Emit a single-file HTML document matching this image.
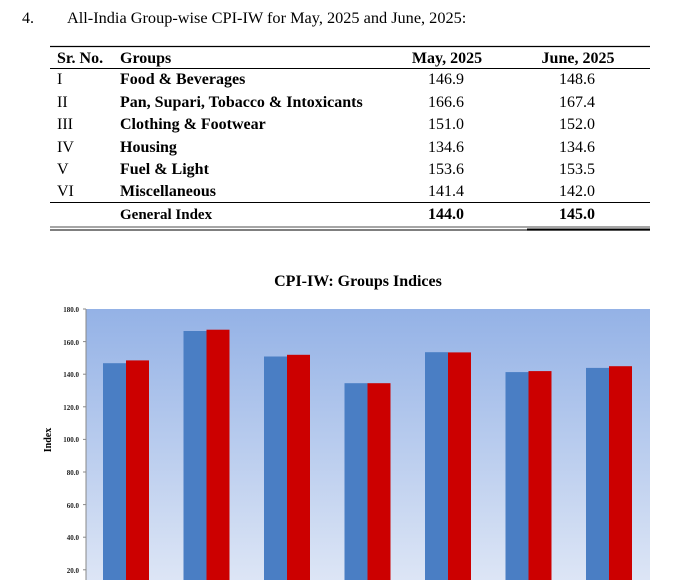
<!DOCTYPE html>
<html><head><style>
body{margin:0;width:687px;height:580px;background:#fff;overflow:hidden;font-family:"Liberation Serif",serif;}
svg{position:absolute;left:0;top:0}
</style></head><body>
<svg width="687" height="580" xmlns="http://www.w3.org/2000/svg" font-family="Liberation Serif, serif">
<defs><linearGradient id="g" x1="0" y1="0" x2="0" y2="1">
<stop offset="0" stop-color="#94b2e6"/><stop offset="1" stop-color="#dfe7f6"/></linearGradient></defs>
<text x="22" y="23" font-size="16">4.</text>
<text x="67" y="23" font-size="16.3">All-India Group-wise CPI-IW for May, 2025 and June, 2025:</text>
<line x1="50" y1="46.5" x2="650" y2="46.5" stroke="#000" stroke-width="1.2"/>
<line x1="50" y1="68.5" x2="650" y2="68.5" stroke="#000" stroke-width="1"/>
<line x1="50" y1="202.5" x2="650" y2="202.5" stroke="#000" stroke-width="1"/>
<line x1="50" y1="227" x2="650" y2="227" stroke="#888" stroke-width="1.5"/>
<line x1="50" y1="230" x2="650" y2="230" stroke="#555" stroke-width="1.5"/>
<line x1="527" y1="229.5" x2="650" y2="229.5" stroke="#000" stroke-width="2"/>
<g font-size="16">
<text x="57" y="63" font-weight="bold">Sr. No.</text>
<text x="120" y="63" font-weight="bold">Groups</text>
<text x="447" y="63" font-weight="bold" text-anchor="middle">May, 2025</text>
<text x="578" y="63" font-weight="bold" text-anchor="middle">June, 2025</text>
<g>
<text x="57" y="84">I</text><text x="57" y="107">II</text><text x="57" y="129">III</text><text x="57" y="152">IV</text><text x="57" y="174">V</text><text x="57" y="196">VI</text>
</g>
<g font-weight="bold">
<text x="120" y="84">Food &amp; Beverages</text>
<text x="120" y="107">Pan, Supari, Tobacco &amp; Intoxicants</text>
<text x="120" y="129">Clothing &amp; Footwear</text>
<text x="120" y="152">Housing</text>
<text x="120" y="174">Fuel &amp; Light</text>
<text x="120" y="196">Miscellaneous</text>
<text x="120" y="219" font-size="15">General Index</text>
</g>
<g text-anchor="middle">
<text x="446" y="84">146.9</text><text x="577" y="84">148.6</text>
<text x="446" y="107">166.6</text><text x="577" y="107">167.4</text>
<text x="446" y="129">151.0</text><text x="577" y="129">152.0</text>
<text x="446" y="152">134.6</text><text x="577" y="152">134.6</text>
<text x="446" y="174">153.6</text><text x="577" y="174">153.5</text>
<text x="446" y="196">141.4</text><text x="577" y="196">142.0</text>
<text x="446" y="219" font-weight="bold">144.0</text><text x="577" y="219" font-weight="bold">145.0</text>
</g></g>
<text x="358" y="286" font-size="16" font-weight="bold" text-anchor="middle">CPI-IW: Groups Indices</text>
<rect x="86" y="309" width="564" height="280" fill="url(#g)"/>
<line x1="86" y1="309" x2="86" y2="580" stroke="#888" stroke-width="1"/>
<g font-size="7" font-weight="bold" text-anchor="end" fill="#222">
<text x="79" y="312">180.0</text><text x="79" y="345">160.0</text><text x="79" y="377">140.0</text><text x="79" y="410">120.0</text><text x="79" y="442">100.0</text><text x="79" y="475">80.0</text><text x="79" y="508">60.0</text><text x="79" y="540">40.0</text><text x="79" y="573">20.0</text>
</g>
<g stroke="#888"><line x1="83" y1="309" x2="86" y2="309"/><line x1="83" y1="341.6" x2="86" y2="341.6"/><line x1="83" y1="374.2" x2="86" y2="374.2"/><line x1="83" y1="406.8" x2="86" y2="406.8"/><line x1="83" y1="439.4" x2="86" y2="439.4"/><line x1="83" y1="472" x2="86" y2="472"/><line x1="83" y1="504.6" x2="86" y2="504.6"/><line x1="83" y1="537.2" x2="86" y2="537.2"/><line x1="83" y1="569.8" x2="86" y2="569.8"/></g>
<text transform="translate(51,440) rotate(-90)" font-size="10" font-weight="bold" text-anchor="middle">Index</text>
<g fill="#4a7ec4">
<rect x="103" y="363.2" width="23" height="220"/>
<rect x="183.5" y="331" width="23" height="260"/>
<rect x="264" y="356.5" width="23" height="230"/>
<rect x="344.5" y="383.2" width="23" height="200"/>
<rect x="425" y="352.2" width="23" height="230"/>
<rect x="505.5" y="372.1" width="23" height="210"/>
<rect x="586" y="367.9" width="23" height="220"/>
</g>
<g fill="#cc0000">
<rect x="126" y="360.4" width="23" height="220"/>
<rect x="206.5" y="329.7" width="23" height="260"/>
<rect x="287" y="354.8" width="23" height="230"/>
<rect x="367.5" y="383.2" width="23" height="200"/>
<rect x="448" y="352.4" width="23" height="230"/>
<rect x="528.5" y="371.1" width="23" height="210"/>
<rect x="609" y="366.2" width="23" height="220"/>
</g>
</svg>
</body></html>
